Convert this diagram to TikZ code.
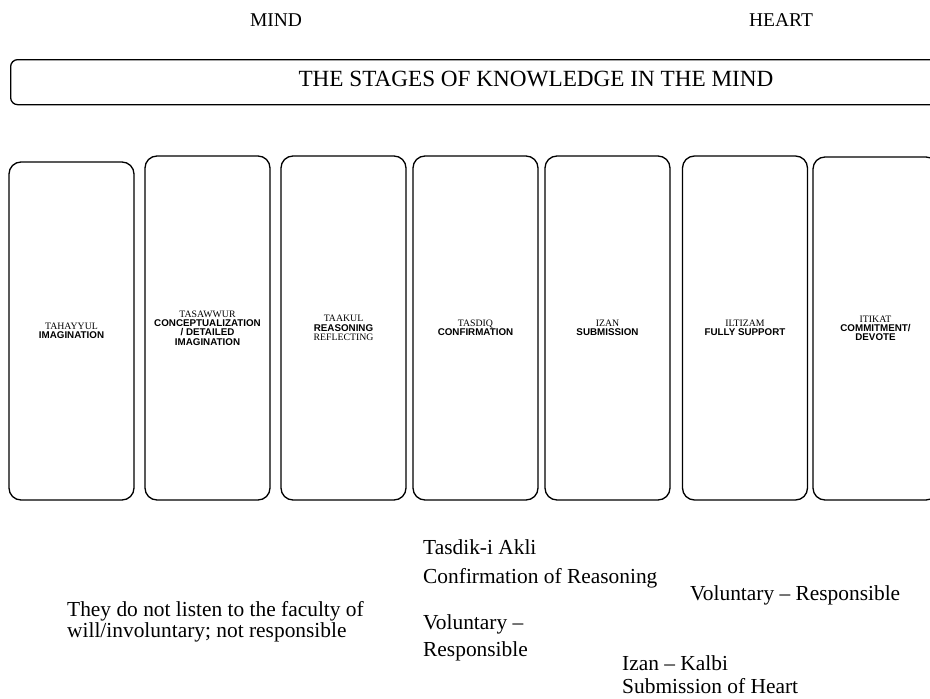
\documentclass[tikz,border=0pt]{standalone}
\usepackage{fontspec}
\setmainfont{Liberation Serif}
\newfontfamily\sansb{Liberation Sans}
\begin{document}
\begin{tikzpicture}[x=1pt,y=-1pt,
  stagebox/.style={draw, line width=1.3pt, rounded corners=12pt, minimum width=125pt,
    inner sep=0pt, align=center, font=\fontsize{9.8}{9.3}\selectfont},
  bottomtext/.style={anchor=base west, inner sep=0pt, align=left,
    font=\fontsize{21.4}{27}\selectfont},
  headtext/.style={inner sep=0pt, font=\fontsize{19.5}{21}\selectfont}]
\useasboundingbox (0,0) rectangle (930,699);
\clip (0,0) rectangle (930,699);
\newcommand\sn[1]{{\sansb\bfseries #1}}

\node[headtext] (mind) at (276,20) {MIND};
\node[headtext] (heart) at (781,20) {HEART};

\node[draw, line width=1.3pt, rounded corners=7pt, minimum width=940pt, minimum height=45pt,
  anchor=north west, inner sep=0pt] (bar) at (10,59) {};
\node[inner sep=0pt, font=\fontsize{23.2}{25}\selectfont] (title) at (536,79)
  {THE STAGES OF KNOWLEDGE IN THE MIND};

\node[stagebox, minimum height=338pt] (b1) at (71.5,331) {TAHAYYUL\\ \sn{IMAGINATION}};
\node[stagebox, minimum height=344pt] (b2) at (207.5,328) {TASAWWUR\\ \sn{CONCEPTUALIZATION}\\ \sn{/ DETAILED}\\ \sn{IMAGINATION}};
\node[stagebox, minimum height=344pt] (b3) at (343.5,328) {TAAKUL\\ \sn{REASONING}\\ REFLECTING};
\node[stagebox, minimum height=344pt] (b4) at (475.5,328) {TASDIQ\\ \sn{CONFIRMATION}};
\node[stagebox, minimum height=344pt] (b5) at (607.5,328) {IZAN\\ \sn{SUBMISSION}};
\node[stagebox, minimum height=344pt] (b6) at (745,328) {ILTIZAM\\ \sn{FULLY SUPPORT}};
\node[stagebox, minimum height=343pt] (b7) at (875.5,328.5) {ITIKAT\\ \sn{COMMITMENT/}\\ \sn{DEVOTE}};

\node[bottomtext, font=\fontsize{21.4}{29}\selectfont] (t1) at (423,583) {Tasdik-i Akli\\ Confirmation of Reasoning};
\node[bottomtext, font=\fontsize{21.4}{21}\selectfont] (t2) at (67,637) {They do not listen to the faculty of\\ will/involuntary; not responsible};
\node[bottomtext, font=\fontsize{21.4}{27}\selectfont] (t3) at (423,656) {Voluntary --\\ Responsible};
\node[bottomtext] (t4) at (690,600) {Voluntary -- Responsible};
\node[bottomtext, font=\fontsize{21.4}{23}\selectfont] (t5) at (622,693) {Izan -- Kalbi\\ Submission of Heart};
\end{tikzpicture}
\end{document}
